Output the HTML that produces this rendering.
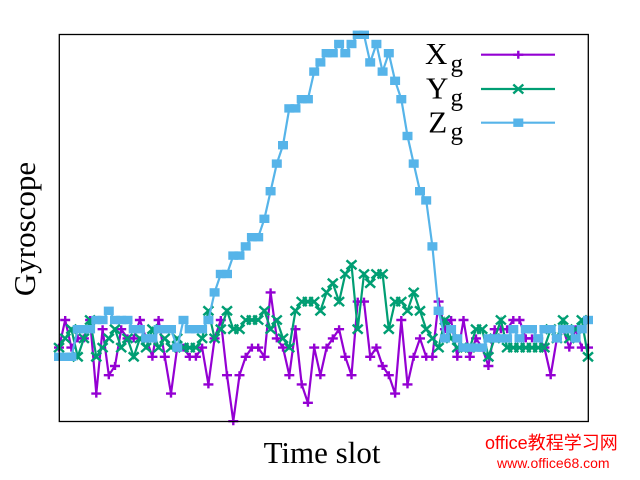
<!DOCTYPE html>
<html><head><meta charset="utf-8"><style>
html,body{margin:0;padding:0;background:#fff;}
svg{display:block;}
</style></head><body>
<svg width="640" height="480" viewBox="0 0 640 480" xmlns="http://www.w3.org/2000/svg">
<defs>
<path id="p" d="M-5,0H5M0,-4V4" stroke="#9400d3" stroke-width="2.4" fill="none"/>
<path id="x" d="M-5,-4.5L5,4.5M-5,4.5L5,-4.5" stroke="#009e73" stroke-width="2.4" fill="none"/>
<g id="z"><rect x="-5" y="-4.2" width="10" height="8.4" fill="#56b4e9"/></g>
</defs>
<rect x="0" y="0" width="640" height="480" fill="#fff"/>

<!-- X series -->
<polyline fill="none" stroke="#9400d3" stroke-width="2.2" points="59.0,347.6 65.2,320 71.4,347.6 77.7,338.4 83.9,338.4 90.1,320 96.3,393.6 102.6,329.2 108.8,375.2 115.0,366 121.2,329.2 127.5,338.4 133.7,338.4 139.9,320 146.1,338.4 152.4,356.8 158.6,320 164.8,356.8 171.0,393.6 177.2,347.6 183.5,347.6 189.7,356.8 195.9,356.8 202.1,347.6 208.4,384.4 214.6,338.4 220.8,320 227.0,375.2 233.3,421.2 239.5,375.2 245.7,356.8 251.9,347.6 258.2,347.6 264.4,356.8 270.6,292.4 276.8,338.4 283.0,347.6 289.3,375.2 295.5,329.2 301.7,384.4 307.9,402.8 314.2,347.6 320.4,375.2 326.6,347.6 332.8,338.4 339.1,329.2 345.3,356.8 351.5,375.2 357.7,301.6 364.0,301.6 370.2,356.8 376.4,347.6 382.6,366 388.8,375.2 395.1,393.6 401.3,320 407.5,384.4 413.7,356.8 420.0,338.4 426.2,356.8 432.4,356.8 438.6,301.6 444.9,329.2 451.1,320 457.3,356.8 463.5,320 469.8,356.8 476.0,338.4 482.2,347.6 488.4,366 494.7,329.2 500.9,329.2 507.1,329.2 513.3,320 519.5,320 525.8,338.4 532.0,338.4 538.2,338.4 544.4,347.6 550.7,375.2 556.9,338.4 563.1,329.2 569.3,347.6 575.6,329.2 581.8,347.6 588.0,347.6"/>
<g>
<use href="#p" x="59.0" y="347.6"/><use href="#p" x="65.2" y="320"/><use href="#p" x="71.4" y="347.6"/><use href="#p" x="77.7" y="338.4"/><use href="#p" x="83.9" y="338.4"/><use href="#p" x="90.1" y="320"/><use href="#p" x="96.3" y="393.6"/><use href="#p" x="102.6" y="329.2"/><use href="#p" x="108.8" y="375.2"/><use href="#p" x="115.0" y="366"/><use href="#p" x="121.2" y="329.2"/><use href="#p" x="127.5" y="338.4"/><use href="#p" x="133.7" y="338.4"/><use href="#p" x="139.9" y="320"/><use href="#p" x="146.1" y="338.4"/><use href="#p" x="152.4" y="356.8"/><use href="#p" x="158.6" y="320"/><use href="#p" x="164.8" y="356.8"/><use href="#p" x="171.0" y="393.6"/><use href="#p" x="177.2" y="347.6"/><use href="#p" x="183.5" y="347.6"/><use href="#p" x="189.7" y="356.8"/><use href="#p" x="195.9" y="356.8"/><use href="#p" x="202.1" y="347.6"/><use href="#p" x="208.4" y="384.4"/><use href="#p" x="214.6" y="338.4"/><use href="#p" x="220.8" y="320"/><use href="#p" x="227.0" y="375.2"/><use href="#p" x="233.3" y="421.2"/><use href="#p" x="239.5" y="375.2"/><use href="#p" x="245.7" y="356.8"/><use href="#p" x="251.9" y="347.6"/><use href="#p" x="258.2" y="347.6"/><use href="#p" x="264.4" y="356.8"/><use href="#p" x="270.6" y="292.4"/><use href="#p" x="276.8" y="338.4"/><use href="#p" x="283.0" y="347.6"/><use href="#p" x="289.3" y="375.2"/><use href="#p" x="295.5" y="329.2"/><use href="#p" x="301.7" y="384.4"/><use href="#p" x="307.9" y="402.8"/><use href="#p" x="314.2" y="347.6"/><use href="#p" x="320.4" y="375.2"/><use href="#p" x="326.6" y="347.6"/><use href="#p" x="332.8" y="338.4"/><use href="#p" x="339.1" y="329.2"/><use href="#p" x="345.3" y="356.8"/><use href="#p" x="351.5" y="375.2"/><use href="#p" x="357.7" y="301.6"/><use href="#p" x="364.0" y="301.6"/><use href="#p" x="370.2" y="356.8"/><use href="#p" x="376.4" y="347.6"/><use href="#p" x="382.6" y="366"/><use href="#p" x="388.8" y="375.2"/><use href="#p" x="395.1" y="393.6"/><use href="#p" x="401.3" y="320"/><use href="#p" x="407.5" y="384.4"/><use href="#p" x="413.7" y="356.8"/><use href="#p" x="420.0" y="338.4"/><use href="#p" x="426.2" y="356.8"/><use href="#p" x="432.4" y="356.8"/><use href="#p" x="438.6" y="301.6"/><use href="#p" x="444.9" y="329.2"/><use href="#p" x="451.1" y="320"/><use href="#p" x="457.3" y="356.8"/><use href="#p" x="463.5" y="320"/><use href="#p" x="469.8" y="356.8"/><use href="#p" x="476.0" y="338.4"/><use href="#p" x="482.2" y="347.6"/><use href="#p" x="488.4" y="366"/><use href="#p" x="494.7" y="329.2"/><use href="#p" x="500.9" y="329.2"/><use href="#p" x="507.1" y="329.2"/><use href="#p" x="513.3" y="320"/><use href="#p" x="519.5" y="320"/><use href="#p" x="525.8" y="338.4"/><use href="#p" x="532.0" y="338.4"/><use href="#p" x="538.2" y="338.4"/><use href="#p" x="544.4" y="347.6"/><use href="#p" x="550.7" y="375.2"/><use href="#p" x="556.9" y="338.4"/><use href="#p" x="563.1" y="329.2"/><use href="#p" x="569.3" y="347.6"/><use href="#p" x="575.6" y="329.2"/><use href="#p" x="581.8" y="347.6"/><use href="#p" x="588.0" y="347.6"/>
</g>

<!-- Y series -->
<polyline fill="none" stroke="#009e73" stroke-width="2.2" points="59.0,347.6 65.2,338.4 71.4,329.2 77.7,356.8 83.9,338.4 90.1,320 96.3,356.8 102.6,347.6 108.8,338.4 115.0,329.2 121.2,347.6 127.5,338.4 133.7,356.8 139.9,338.4 146.1,347.6 152.4,329.2 158.6,347.6 164.8,338.4 171.0,347.6 177.2,338.4 183.5,347.6 189.7,347.6 195.9,347.6 202.1,338.4 208.4,310.8 214.6,338.4 220.8,329.2 227.0,310.8 233.3,329.2 239.5,329.2 245.7,320 251.9,320 258.2,320 264.4,310.8 270.6,329.2 276.8,320 283.0,338.4 289.3,347.6 295.5,310.8 301.7,301.6 307.9,301.6 314.2,301.6 320.4,310.8 326.6,292.4 332.8,283.2 339.1,301.6 345.3,274 351.5,264.8 357.7,329.2 364.0,274 370.2,283.2 376.4,274 382.6,274 388.8,329.2 395.1,301.6 401.3,301.6 407.5,310.8 413.7,292.4 420.0,310.8 426.2,329.2 432.4,338.4 438.6,347.6 444.9,320 451.1,338.4 457.3,347.6 463.5,347.6 469.8,347.6 476.0,329.2 482.2,329.2 488.4,356.8 494.7,338.4 500.9,320 507.1,347.6 513.3,347.6 519.5,347.6 525.8,347.6 532.0,347.6 538.2,347.6 544.4,347.6 550.7,329.2 556.9,338.4 563.1,320 569.3,338.4 575.6,329.2 581.8,320 588.0,356.8"/>
<g>
<use href="#x" x="59.0" y="347.6"/><use href="#x" x="65.2" y="338.4"/><use href="#x" x="71.4" y="329.2"/><use href="#x" x="77.7" y="356.8"/><use href="#x" x="83.9" y="338.4"/><use href="#x" x="90.1" y="320"/><use href="#x" x="96.3" y="356.8"/><use href="#x" x="102.6" y="347.6"/><use href="#x" x="108.8" y="338.4"/><use href="#x" x="115.0" y="329.2"/><use href="#x" x="121.2" y="347.6"/><use href="#x" x="127.5" y="338.4"/><use href="#x" x="133.7" y="356.8"/><use href="#x" x="139.9" y="338.4"/><use href="#x" x="146.1" y="347.6"/><use href="#x" x="152.4" y="329.2"/><use href="#x" x="158.6" y="347.6"/><use href="#x" x="164.8" y="338.4"/><use href="#x" x="171.0" y="347.6"/><use href="#x" x="177.2" y="338.4"/><use href="#x" x="183.5" y="347.6"/><use href="#x" x="189.7" y="347.6"/><use href="#x" x="195.9" y="347.6"/><use href="#x" x="202.1" y="338.4"/><use href="#x" x="208.4" y="310.8"/><use href="#x" x="214.6" y="338.4"/><use href="#x" x="220.8" y="329.2"/><use href="#x" x="227.0" y="310.8"/><use href="#x" x="233.3" y="329.2"/><use href="#x" x="239.5" y="329.2"/><use href="#x" x="245.7" y="320"/><use href="#x" x="251.9" y="320"/><use href="#x" x="258.2" y="320"/><use href="#x" x="264.4" y="310.8"/><use href="#x" x="270.6" y="329.2"/><use href="#x" x="276.8" y="320"/><use href="#x" x="283.0" y="338.4"/><use href="#x" x="289.3" y="347.6"/><use href="#x" x="295.5" y="310.8"/><use href="#x" x="301.7" y="301.6"/><use href="#x" x="307.9" y="301.6"/><use href="#x" x="314.2" y="301.6"/><use href="#x" x="320.4" y="310.8"/><use href="#x" x="326.6" y="292.4"/><use href="#x" x="332.8" y="283.2"/><use href="#x" x="339.1" y="301.6"/><use href="#x" x="345.3" y="274"/><use href="#x" x="351.5" y="264.8"/><use href="#x" x="357.7" y="329.2"/><use href="#x" x="364.0" y="274"/><use href="#x" x="370.2" y="283.2"/><use href="#x" x="376.4" y="274"/><use href="#x" x="382.6" y="274"/><use href="#x" x="388.8" y="329.2"/><use href="#x" x="395.1" y="301.6"/><use href="#x" x="401.3" y="301.6"/><use href="#x" x="407.5" y="310.8"/><use href="#x" x="413.7" y="292.4"/><use href="#x" x="420.0" y="310.8"/><use href="#x" x="426.2" y="329.2"/><use href="#x" x="432.4" y="338.4"/><use href="#x" x="438.6" y="347.6"/><use href="#x" x="444.9" y="320"/><use href="#x" x="451.1" y="338.4"/><use href="#x" x="457.3" y="347.6"/><use href="#x" x="463.5" y="347.6"/><use href="#x" x="469.8" y="347.6"/><use href="#x" x="476.0" y="329.2"/><use href="#x" x="482.2" y="329.2"/><use href="#x" x="488.4" y="356.8"/><use href="#x" x="494.7" y="338.4"/><use href="#x" x="500.9" y="320"/><use href="#x" x="507.1" y="347.6"/><use href="#x" x="513.3" y="347.6"/><use href="#x" x="519.5" y="347.6"/><use href="#x" x="525.8" y="347.6"/><use href="#x" x="532.0" y="347.6"/><use href="#x" x="538.2" y="347.6"/><use href="#x" x="544.4" y="347.6"/><use href="#x" x="550.7" y="329.2"/><use href="#x" x="556.9" y="338.4"/><use href="#x" x="563.1" y="320"/><use href="#x" x="569.3" y="338.4"/><use href="#x" x="575.6" y="329.2"/><use href="#x" x="581.8" y="320"/><use href="#x" x="588.0" y="356.8"/>
</g>

<!-- Z series -->
<polyline fill="none" stroke="#56b4e9" stroke-width="2.2" points="59.0,356.8 65.2,356.8 71.4,356.8 77.7,329.2 83.9,329.2 90.1,329.2 96.3,320 102.6,320 108.8,310.8 115.0,320 121.2,320 127.5,320 133.7,329.2 139.9,329.2 146.1,338.4 152.4,338.4 158.6,329.2 164.8,329.2 171.0,329.2 177.2,347.6 183.5,320 189.7,329.2 195.9,329.2 202.1,329.2 208.4,320 214.6,292.4 220.8,274 227.0,274 233.3,255.6 239.5,255.6 245.7,246.4 251.9,237.2 258.2,237.2 264.4,218.8 270.6,191.2 276.8,163.6 283.0,145.2 289.3,108.4 295.5,108.4 301.7,99.2 307.9,99.2 314.2,71.6 320.4,62.4 326.6,53.2 332.8,53.2 339.1,44 345.3,53.2 351.5,44 357.7,34.8 364.0,34.8 370.2,62.4 376.4,44 382.6,71.6 388.8,53.2 395.1,80.8 401.3,99.2 407.5,136 413.7,163.6 420.0,191.2 426.2,200.4 432.4,246.4 438.6,310.8 444.9,338.4 451.1,329.2 457.3,338.4 463.5,347.6 469.8,347.6 476.0,347.6 482.2,347.6 488.4,338.4 494.7,338.4 500.9,338.4 507.1,338.4 513.3,329.2 519.5,338.4 525.8,329.2 532.0,329.2 538.2,338.4 544.4,329.2 550.7,329.2 556.9,338.4 563.1,329.2 569.3,329.2 575.6,338.4 581.8,329.2 588.0,320"/>
<g>
<use href="#z" x="59.0" y="356.8"/><use href="#z" x="65.2" y="356.8"/><use href="#z" x="71.4" y="356.8"/><use href="#z" x="77.7" y="329.2"/><use href="#z" x="83.9" y="329.2"/><use href="#z" x="90.1" y="329.2"/><use href="#z" x="96.3" y="320"/><use href="#z" x="102.6" y="320"/><use href="#z" x="108.8" y="310.8"/><use href="#z" x="115.0" y="320"/><use href="#z" x="121.2" y="320"/><use href="#z" x="127.5" y="320"/><use href="#z" x="133.7" y="329.2"/><use href="#z" x="139.9" y="329.2"/><use href="#z" x="146.1" y="338.4"/><use href="#z" x="152.4" y="338.4"/><use href="#z" x="158.6" y="329.2"/><use href="#z" x="164.8" y="329.2"/><use href="#z" x="171.0" y="329.2"/><use href="#z" x="177.2" y="347.6"/><use href="#z" x="183.5" y="320"/><use href="#z" x="189.7" y="329.2"/><use href="#z" x="195.9" y="329.2"/><use href="#z" x="202.1" y="329.2"/><use href="#z" x="208.4" y="320"/><use href="#z" x="214.6" y="292.4"/><use href="#z" x="220.8" y="274"/><use href="#z" x="227.0" y="274"/><use href="#z" x="233.3" y="255.6"/><use href="#z" x="239.5" y="255.6"/><use href="#z" x="245.7" y="246.4"/><use href="#z" x="251.9" y="237.2"/><use href="#z" x="258.2" y="237.2"/><use href="#z" x="264.4" y="218.8"/><use href="#z" x="270.6" y="191.2"/><use href="#z" x="276.8" y="163.6"/><use href="#z" x="283.0" y="145.2"/><use href="#z" x="289.3" y="108.4"/><use href="#z" x="295.5" y="108.4"/><use href="#z" x="301.7" y="99.2"/><use href="#z" x="307.9" y="99.2"/><use href="#z" x="314.2" y="71.6"/><use href="#z" x="320.4" y="62.4"/><use href="#z" x="326.6" y="53.2"/><use href="#z" x="332.8" y="53.2"/><use href="#z" x="339.1" y="44"/><use href="#z" x="345.3" y="53.2"/><use href="#z" x="351.5" y="44"/><use href="#z" x="357.7" y="34.8"/><use href="#z" x="364.0" y="34.8"/><use href="#z" x="370.2" y="62.4"/><use href="#z" x="376.4" y="44"/><use href="#z" x="382.6" y="71.6"/><use href="#z" x="388.8" y="53.2"/><use href="#z" x="395.1" y="80.8"/><use href="#z" x="401.3" y="99.2"/><use href="#z" x="407.5" y="136"/><use href="#z" x="413.7" y="163.6"/><use href="#z" x="420.0" y="191.2"/><use href="#z" x="426.2" y="200.4"/><use href="#z" x="432.4" y="246.4"/><use href="#z" x="438.6" y="310.8"/><use href="#z" x="444.9" y="338.4"/><use href="#z" x="451.1" y="329.2"/><use href="#z" x="457.3" y="338.4"/><use href="#z" x="463.5" y="347.6"/><use href="#z" x="469.8" y="347.6"/><use href="#z" x="476.0" y="347.6"/><use href="#z" x="482.2" y="347.6"/><use href="#z" x="488.4" y="338.4"/><use href="#z" x="494.7" y="338.4"/><use href="#z" x="500.9" y="338.4"/><use href="#z" x="507.1" y="338.4"/><use href="#z" x="513.3" y="329.2"/><use href="#z" x="519.5" y="338.4"/><use href="#z" x="525.8" y="329.2"/><use href="#z" x="532.0" y="329.2"/><use href="#z" x="538.2" y="338.4"/><use href="#z" x="544.4" y="329.2"/><use href="#z" x="550.7" y="329.2"/><use href="#z" x="556.9" y="338.4"/><use href="#z" x="563.1" y="329.2"/><use href="#z" x="569.3" y="329.2"/><use href="#z" x="575.6" y="338.4"/><use href="#z" x="581.8" y="329.2"/><use href="#z" x="588.0" y="320"/>
</g>

<!-- frame -->
<rect x="59.3" y="34.5" width="529" height="387" fill="none" stroke="#000" stroke-width="1.3"/>

<!-- legend -->
<g font-family="Liberation Serif, serif" fill="#000">
<text x="425" y="64" font-size="31">X</text><text x="450.5" y="71.3" font-size="25">g</text>
<text x="426" y="98.3" font-size="31">Y</text><text x="450.5" y="105.3" font-size="25">g</text>
<text x="428.3" y="132.3" font-size="31">Z</text><text x="450.5" y="139.3" font-size="25">g</text>
</g>
<line x1="481" y1="54.7" x2="555" y2="54.7" stroke="#9400d3" stroke-width="2.2"/>
<use href="#p" x="518.3" y="54.7"/>
<line x1="481" y1="89" x2="555" y2="89" stroke="#009e73" stroke-width="2.2"/>
<use href="#x" x="518.3" y="89"/>
<line x1="481" y1="122.7" x2="555" y2="122.7" stroke="#56b4e9" stroke-width="2.2"/>
<use href="#z" x="518.3" y="122.7"/>

<!-- axis labels -->
<text transform="translate(35,229) rotate(-90)" text-anchor="middle" font-family="Liberation Serif, serif" font-size="31" fill="#000">Gyroscope</text>
<text x="322" y="463" text-anchor="middle" font-family="Liberation Serif, serif" font-size="31" fill="#000">Time slot</text>

<!-- watermark -->
<text x="485" y="449" font-family="Liberation Sans, Noto Sans CJK SC, sans-serif" font-size="18" fill="#f00">office教程学习网</text>
<text x="497" y="468" font-family="Liberation Sans, sans-serif" font-size="14" fill="#f00">www.office68.com</text>
</svg>
</body></html>
